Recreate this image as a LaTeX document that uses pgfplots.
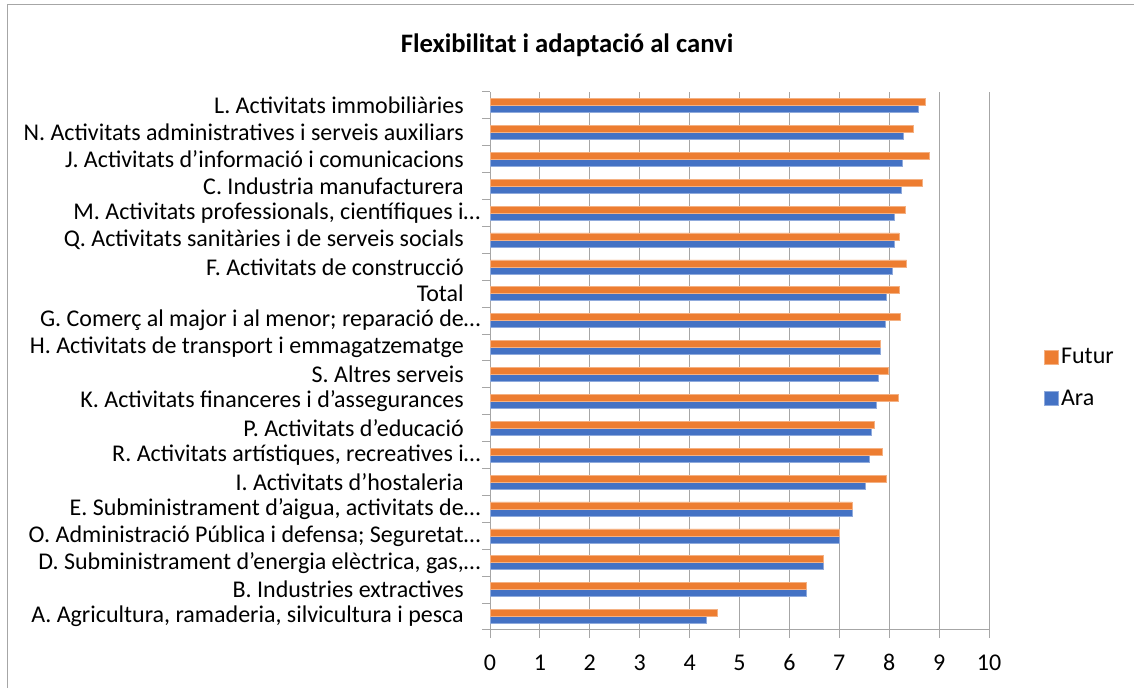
\documentclass[border=0pt]{standalone}
\usepackage{fontspec}
\setmainfont{Carlito}
\usepackage{pgfplots}
\pgfplotsset{compat=1.18}
\definecolor{futur}{RGB}{237,125,49}
\definecolor{ara}{RGB}{68,114,196}
\definecolor{gridc}{RGB}{166,166,166}
\newcommand{\tsp}{\hbox to 12.5pt{}}
\begin{document}
\begin{tikzpicture}
\useasboundingbox (0,0) rectangle (850.5pt,516pt);
\draw[gridc, line width=0.9pt] (5.625pt,0) -- (5.625pt,512.6pt) -- (850.5pt,512.6pt);
\node[font=\fontsize{20}{24}\selectfont\bfseries] at (425.25pt,482.25pt) {Flexibilitat i adaptació al canvi};
\begin{axis}[
  at={(367.5pt,43.5pt)}, anchor=south west,
  scale only axis, width=374.25pt, height=403.5pt,
  xbar, xmin=0, xmax=10, ymin=-0.5, ymax=19.5,
  bar width=5.25pt,
  axis x line*=bottom, axis y line*=left,
  axis line style={gridc, line width=0.75pt, -},
  xmajorgrids, grid style={gridc, line width=0.75pt},
  xtick={0,1,...,10}, ytick={0,1,...,19},
  minor ytick={-0.5,0.5,...,19.5},
  tick align=outside, major tick length=6pt, minor tick length=6pt,
  every major y tick/.append style={draw=none},
  tick style={gridc, line width=0.75pt},
  /pgf/number format/assume math mode=true,
  tick label style={font=\fontsize{18}{21.6}\selectfont, text=black},
  xticklabel style={anchor=base, yshift=-24.5pt},
  yticklabel style={anchor=east, inner sep=0pt, xshift=-1pt},
  yticklabels={
    A. Agricultura{,} ramaderia{,} silvicultura i pesca\tsp,
    B. Industries extractives\tsp,
    D. Subministrament d’energia elèctrica{,} gas{,}…,
    O. Administració Pública i defensa; Seguretat…,
    E. Subministrament d’aigua{,} activitats de…,
    I. Activitats d’hostaleria\tsp,
    R. Activitats artístiques{,} recreatives i…,
    P. Activitats d’educació\tsp,
    K. Activitats financeres i d’assegurances\tsp,
    S. Altres serveis\tsp,
    H. Activitats de transport i emmagatzematge\tsp,
    G. Comerç al major i al menor; reparació de…,
    Total\tsp,
    F. Activitats de construcció\tsp,
    Q. Activitats sanitàries i de serveis socials\tsp,
    M. Activitats professionals{,} científiques i…,
    C. Industria manufacturera\tsp,
    J. Activitats d’informació i comunicacions\tsp,
    N. Activitats administratives i serveis auxiliars\tsp,
    L. Activitats immobiliàries\tsp
  },
  reverse legend,
  legend style={draw=none, inner sep=0pt, at={(1.110,0.469)}, anchor=west,
    font=\fontsize{18}{21.6}\selectfont, row sep=14pt},
  legend cell align=left,
  legend image code/.code={\fill[#1] (0pt,-5.1pt) rectangle (10.3pt,5.1pt);},
]
\addplot[draw=ara!60!white, line width=0.4pt, fill=ara, bar shift=-2.625pt] coordinates {
  (4.33,0) (6.33,1) (6.67,2) (7.00,3) (7.25,4) (7.53,5) (7.61,6) (7.65,7)
  (7.74,8) (7.79,9) (7.83,10) (7.93,11) (7.94,12) (8.07,13) (8.10,14)
  (8.11,15) (8.25,16) (8.27,17) (8.28,18) (8.59,19)};
\addlegendentry{Ara}
\addplot[draw=futur!60!white, line width=0.4pt, fill=futur, bar shift=2.625pt] coordinates {
  (4.56,0) (6.33,1) (6.67,2) (7.00,3) (7.25,4) (7.95,5) (7.87,6) (7.70,7)
  (8.19,8) (7.98,9) (7.83,10) (8.23,11) (8.20,12) (8.35,13) (8.20,14)
  (8.32,15) (8.66,16) (8.80,17) (8.49,18) (8.73,19)};
\addlegendentry{Futur}
\end{axis}
\end{tikzpicture}
\end{document}
